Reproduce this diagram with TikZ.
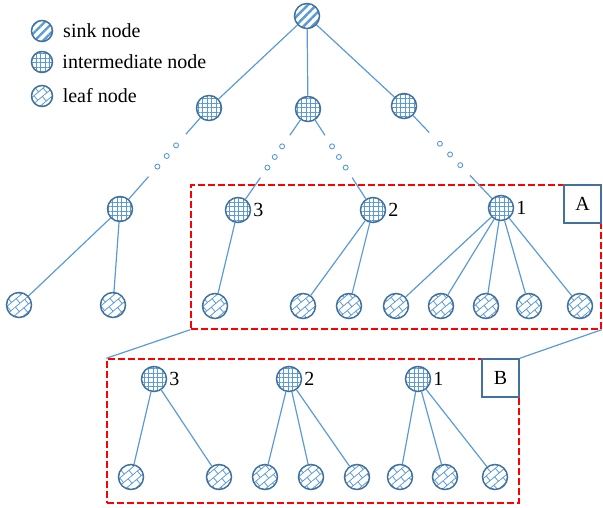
\documentclass[tikz,border=0pt]{standalone}
\usepackage{fontspec}
\setmainfont{Liberation Serif}
\usepackage{xcolor}
\usetikzlibrary{positioning}
\usetikzlibrary{calc}
\usetikzlibrary{math}
\usetikzlibrary{patterns.meta}

\definecolor{rimblue}{HTML}{41719C}
\definecolor{linkblue}{HTML}{5B9BD5}

% brick pattern of the leaf nodes
\tikzdeclarepattern{
  name=leafbricks,
  type=uncolored,
  bottom left={(-.5pt,-.5pt)},
  top right={(12.5pt,12.5pt)},
  tile size={(12pt,12pt)},
  tile transformation={rotate=40},
  code={
    \tikzset{x=1pt,y=1pt}
    \draw[line width=0.8pt] (0,0) -- (12,0) (0,6) -- (12,6) (3,0) -- (3,6) (9,6) -- (9,12);
  }
}

\tikzset{
  treenode/.style={circle, draw=rimblue, line width=1.5pt, minimum size=25pt,
    inner sep=0pt, preaction={fill=white}, pattern color=linkblue},
  sinknode/.style={treenode, pattern={Lines[angle=45,distance=6pt,line width=2.4pt]}},
  midnode/.style={treenode, pattern={Hatch[angle=0,distance=4.5pt,line width=0.9pt]}},
  leafnode/.style={treenode, pattern=leafbricks},
  legendicon/.style={minimum size=21pt},
  link/.style={draw=linkblue, line width=1.2pt},
  gapdot/.style={draw=linkblue, fill=white, line width=0.9pt},
  zoombox/.style={draw=red, dash pattern=on 7pt off 3pt, line width=1.4pt, inner sep=0pt},
  tagbox/.style={draw=rimblue, fill=white, line width=1.4pt, minimum width=37pt,
    minimum height=38pt, inner sep=0pt},
  numlabel/.style={inner sep=2pt}
}

\begin{document}
\begin{tikzpicture}[x=1pt,y=-1pt,font=\fontsize{20}{24}\selectfont]

  \tikzmath{
    \cutend   = 0.26; % where the line stops below the upper node
    \cutstart = 0.68; % where the line starts again
    \dotrad   = 2.5;  % radius of the small gap dots
  }

  \useasboundingbox (0,0) rectangle (603,508);

  % legend
  \node[sinknode, legendicon] (lgsink) at (42,31) {};
  \node[midnode, legendicon] (lgmid) at (42,62) {};
  \node[leafnode, legendicon] (lgleaf) at (42,96) {};
  \node[right=6pt of lgsink] (lgsinktxt) {sink node};
  \node[right=6pt of lgmid] (lgmidtxt) {intermediate node};
  \node[right=6pt of lgleaf] (lgleaftxt) {leaf node};

  % zoom boxes
  \node[zoombox, minimum width=410pt, minimum height=144pt] (boxA) at (396,257) {};
  \node[tagbox, anchor=north east] (tagA) at (boxA.north east) {A};
  \node[zoombox, minimum width=412pt, minimum height=144pt] (boxB) at (313,431) {};
  \node[tagbox, anchor=north east] (tagB) at (boxB.north east) {B};
  \draw[link] (boxA.south west) -- (boxB.north west);
  \draw[link] (boxA.south east) -- (boxB.north east);

  % upper tree
  \node[sinknode] (sink) at (307,16) {};
  \node[midnode] (ma) at (209,108) {};
  \node[midnode] (mb) at (308,109) {};
  \node[midnode] (mc) at (404,106) {};
  \node[midnode] (la) at (120,209) {};
  \node[midnode, label={[numlabel]right:3}] (lb) at (238,210) {};
  \node[midnode, label={[numlabel]right:2}] (lc) at (373,210) {};
  \node[midnode, label={[numlabel]right:1}] (ld) at (501,208) {};

  \foreach \c in {ma,mb,mc}
    \draw[link] (sink) -- (\c);

  % broken lines with dots
  \foreach \p/\c in {ma/la, mb/lb, mb/lc, mc/ld} {
    \draw[link] (\p) -- ($(\p)!\cutend!(\c)$);
    \draw[link] ($(\p)!\cutstart!(\c)$) -- (\c);
    \foreach \t in {0.37,0.475,0.58}
      \draw[gapdot] ($(\p)!\t!(\c)$) circle (\dotrad);
  }

  % leaves of the upper tree
  \foreach \x [count=\i] in {19,113}
    \node[leafnode] (fa\i) at (\x,305) {};
  \foreach \x [count=\i] in {215,303,349,396,441,486,529,580}
    \node[leafnode] (fb\i) at (\x,306) {};

  \foreach \p/\c in {la/fa1, la/fa2, lb/fb1, lc/fb2, lc/fb3,
                     ld/fb4, ld/fb5, ld/fb6, ld/fb7, ld/fb8}
    \draw[link] (\p) -- (\c);

  % tree B
  \node[midnode, label={[numlabel]right:3}] (ba) at (154,379) {};
  \node[midnode, label={[numlabel]right:2}] (bb) at (289,379) {};
  \node[midnode, label={[numlabel]right:1}] (bc) at (418,379) {};
  \foreach \x [count=\i] in {131,219,265,311,357,400,445,495}
    \node[leafnode] (fc\i) at (\x,477) {};

  \foreach \p/\c in {ba/fc1, ba/fc2, bb/fc3, bb/fc4, bb/fc5,
                     bc/fc6, bc/fc7, bc/fc8}
    \draw[link] (\p) -- (\c);

\end{tikzpicture}
\end{document}
